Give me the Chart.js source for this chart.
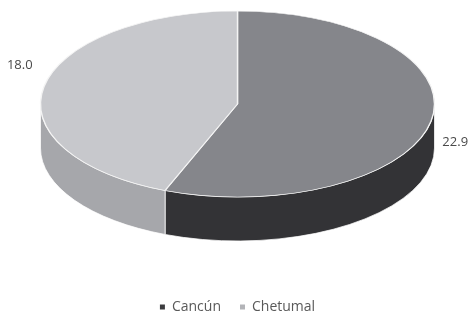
<!DOCTYPE html>
<html><head><meta charset="utf-8">
<script src="https://cdn.jsdelivr.net/npm/chart.js@4.4.0/dist/chart.umd.min.js"></script>
<style>html,body{margin:0;padding:0;background:#fff}#wrap{width:472px;height:314px}</style>
</head><body><div id="wrap"><canvas id="c"></canvas></div>
<script>
const categories = ['Cancún', 'Chetumal'];
const values = [22.9, 18.0];
const valueLabels = ['22.9', '18.0'];
const topColors = ['#85868b', '#c7c8cc'];
const sideColors = ['#333336', '#a6a7ab'];
const legendColors = ['#3c3c3f', '#b3b4b8'];

// style constants for the 3D look
const RX = 197, RY = 93, DEPTH = 44, TOP_GAP = 11;
const LABEL_SHIFT = 0.17, LABEL_R = 1.18;

const pie3d = {
  id: 'pie3d',
  beforeDatasetsDraw(chart) {
    const ctx = chart.ctx;
    const els = chart.getDatasetMeta(0).data;
    if (!els.length) return false;
    const R = els[0].outerRadius;
    const SX = RX / R, SY = RY / R;
    const cx = els[0].x;
    const cy = chart.chartArea.top + TOP_GAP + RY;
    const rx = RX, ry = RY;
    // side walls (visible front half)
    els.forEach((el, i) => {
      [0, 2 * Math.PI, -2 * Math.PI].forEach(off => {
        const a1 = Math.max(el.startAngle, off), a2 = Math.min(el.endAngle, off + Math.PI);
        if (a2 <= a1) return;
        ctx.save();
        ctx.beginPath();
        ctx.ellipse(cx, cy, rx, ry, 0, a1, a2, false);
        ctx.lineTo(cx + rx * Math.cos(a2), cy + ry * Math.sin(a2) + DEPTH);
        ctx.ellipse(cx, cy + DEPTH, rx, ry, 0, a2, a1, true);
        ctx.closePath();
        ctx.fillStyle = sideColors[i];
        ctx.fill();
        ctx.strokeStyle = 'rgba(255,255,255,0.75)';
        ctx.lineWidth = 1;
        ctx.stroke();
        ctx.restore();
      });
    });
    // top faces, drawn by the library's arc elements
    els.forEach(el => {
      ctx.save();
      ctx.translate(cx, cy);
      ctx.scale(SX, SY);
      ctx.translate(-el.x, -el.y);
      el.draw(ctx);
      ctx.restore();
    });
    // value labels
    ctx.save();
    ctx.font = '13px "Open Sans", sans-serif';
    ctx.fillStyle = '#4a4a4a';
    ctx.textAlign = 'center';
    ctx.textBaseline = 'middle';
    els.forEach((el, i) => {
      const mid = (el.startAngle + el.endAngle) / 2 + LABEL_SHIFT;
      ctx.fillText(valueLabels[i], cx + rx * LABEL_R * Math.cos(mid), cy + ry * LABEL_R * Math.sin(mid));
    });
    ctx.restore();
    return false;
  }
};

new Chart(document.getElementById('c'), {
  type: 'pie',
  data: {
    labels: categories,
    datasets: [{
      data: values,
      backgroundColor: topColors,
      borderColor: '#f4f4f4',
      borderWidth: 1
    }]
  },
  options: {
    responsive: true,
    maintainAspectRatio: false,
    animation: false,
    layout: { padding: { left: 3, top: 0, right: 0, bottom: -10 } },
    plugins: {
      tooltip: { enabled: false },
      legend: {
        position: 'bottom',
        labels: {
          usePointStyle: true,
          pointStyle: 'rect',
          pointStyleWidth: 5,
          boxWidth: 5,
          boxHeight: 5,
          padding: 19,
          color: '#595959',
          font: { family: '"Open Sans", sans-serif', size: 14 },
          generateLabels(chart) {
            const items = Chart.overrides.pie.plugins.legend.labels.generateLabels(chart);
            items.forEach((it, i) => { it.fillStyle = legendColors[i]; it.strokeStyle = legendColors[i]; it.lineWidth = 0; });
            return items;
          }
        }
      }
    }
  },
  plugins: [pie3d]
});
</script>
</body></html>
